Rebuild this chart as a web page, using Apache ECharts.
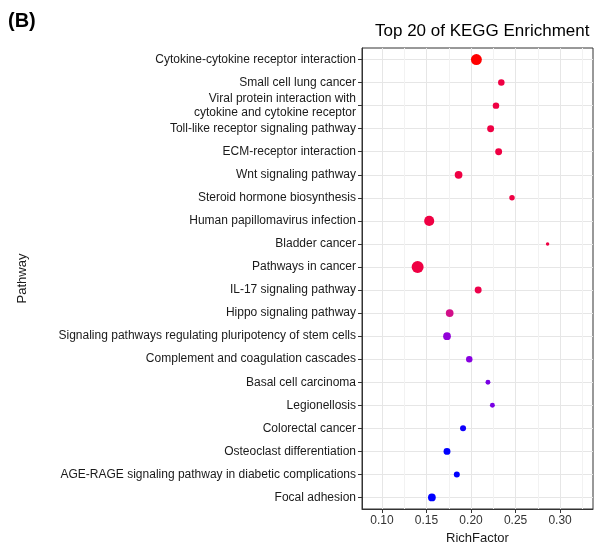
<!DOCTYPE html>
<html>
<head>
<meta charset="utf-8">
<script src="https://cdn.jsdelivr.net/npm/echarts@6/dist/echarts.min.js"></script>
<style>
html, body { margin: 0; padding: 0; background: #fff; }
#chart { width: 594px; height: 544px; }
</style>
</head>
<body>
<div id="chart"></div>
<script>
// KEGG top 20 pathways, top to bottom
var pathways = [
    'Cytokine-cytokine receptor interaction',
    'Small cell lung cancer',
    'Viral protein interaction with\ncytokine and cytokine receptor',
    'Toll-like receptor signaling pathway',
    'ECM-receptor interaction',
    'Wnt signaling pathway',
    'Steroid hormone biosynthesis',
    'Human papillomavirus infection',
    'Bladder cancer',
    'Pathways in cancer',
    'IL-17 signaling pathway',
    'Hippo signaling pathway',
    'Signaling pathways regulating pluripotency of stem cells',
    'Complement and coagulation cascades',
    'Basal cell carcinoma',
    'Legionellosis',
    'Colorectal cancer',
    'Osteoclast differentiation',
    'AGE-RAGE signaling pathway in diabetic complications',
    'Focal adhesion'
];
var richFactor = [0.206, 0.234, 0.228, 0.222, 0.231, 0.186, 0.246, 0.153, 0.286, 0.140,
                  0.208, 0.176, 0.173, 0.198, 0.219, 0.224, 0.191, 0.173, 0.184, 0.156];
var geneCount = [20, 7, 7, 8, 8, 10, 5, 17, 2, 24,
                 8, 10, 10, 7, 4, 4, 6, 8, 6, 10];
var padj = [0.0005, 0.009, 0.009, 0.009, 0.009, 0.009, 0.009, 0.009, 0.009, 0.009,
            0.010, 0.018, 0.027, 0.028, 0.029, 0.029, 0.036, 0.037, 0.037, 0.037];
var xTicks = [0.10, 0.15, 0.20, 0.25, 0.30];
var xMinor = [0.125, 0.175, 0.225, 0.275, 0.325];

var points = [];
for (var i = 0; i < pathways.length; i++) {
    points.push([richFactor[i], pathways[i], geneCount[i], padj[i]]);
}

var myChart = echarts.init(document.getElementById('chart'));
var font = 'Liberation Sans, Arial, sans-serif';

option = {
    backgroundColor: '#fff',
    animation: false,
    textStyle: { fontFamily: font },
    title: [
        {
            text: '(B)',
            left: 8,
            top: 11,
            padding: 0,
            textStyle: { fontFamily: font, fontSize: 20, fontWeight: 'bold', color: '#000' }
        },
        {
            text: 'Top 20 of KEGG Enrichment',
            left: 375,
            top: 23,
            padding: 0,
            textStyle: { fontFamily: font, fontSize: 17, fontWeight: 'normal', color: '#000' }
        }
    ],
    grid: {
        left: 362,
        top: 48,
        right: 1,
        bottom: 35,
        containLabel: false,
        outerBoundsMode: 'none',
        show: true,
        borderColor: '#333',
        borderWidth: 1
    },
    visualMap: {
        show: false,
        type: 'continuous',
        dimension: 3,
        min: 0.0005,
        max: 0.037,
        inRange: { color: ['#ff0000', '#ee0048', '#d0108f', '#8a00e0', '#0000ff'] }
    },
    xAxis: [
        {
            type: 'value',
            min: 0.0775,
            max: 0.337,
            name: 'RichFactor',
            nameLocation: 'middle',
            nameGap: 18,
            nameTextStyle: { fontFamily: font, fontSize: 13, color: '#1a1a1a' },
            axisLine: { show: true, lineStyle: { color: '#333', width: 1 } },
            axisTick: { show: true, length: 4, customValues: xTicks, lineStyle: { color: '#333' } },
            axisLabel: {
                customValues: xTicks,
                fontSize: 12,
                color: '#333',
                margin: 6,
                formatter: function (v) { return v.toFixed(2); }
            },
            splitLine: { show: true, lineStyle: { color: '#e6e6e6', width: 1 } }
        },
        {
            type: 'value',
            min: 0.0775,
            max: 0.337,
            position: 'bottom',
            axisLine: { show: false },
            axisTick: { show: false, customValues: xMinor },
            axisLabel: { show: false, customValues: xMinor },
            splitLine: { show: true, lineStyle: { color: '#f2f2f2', width: 1 } }
        }
    ],
    yAxis: {
        type: 'category',
        data: pathways,
        inverse: true,
        name: 'Pathway',
        nameLocation: 'middle',
        nameGap: 333,
        nameRotate: 90,
        nameTextStyle: { fontFamily: font, fontSize: 13, color: '#1a1a1a' },
        axisLine: { show: true, lineStyle: { color: '#333', width: 1 } },
        axisTick: { show: true, length: 4, alignWithLabel: true, lineStyle: { color: '#333' } },
        axisLabel: { fontSize: 12, color: '#1a1a1a', margin: 6, lineHeight: 14 },
        splitLine: { show: true, alignWithLabel: true, lineStyle: { color: '#e6e6e6', width: 1 } }
    },
    series: [
        {
            type: 'scatter',
            xAxisIndex: 0,
            data: points,
            symbolSize: function (v) { return 2.45 * Math.sqrt(v[2]); },
            itemStyle: { opacity: 1 },
            z: 5
        }
    ]
};

myChart.setOption(option);
</script>
</body>
</html>
